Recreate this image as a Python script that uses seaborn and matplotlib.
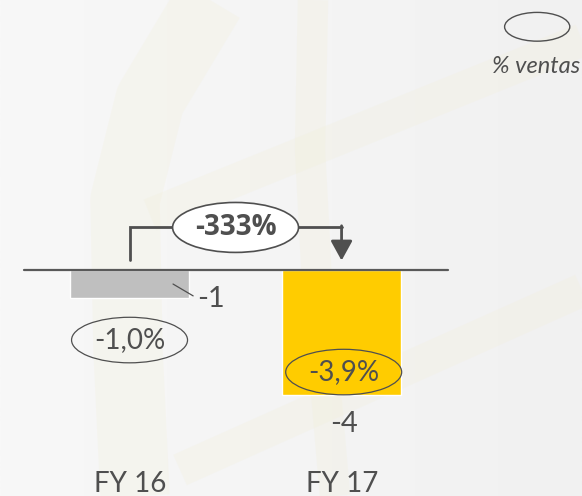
import matplotlib.pyplot as plt
import seaborn as sns
import numpy as np
import pandas as pd
from matplotlib.patches import Ellipse

years = ["FY 16", "FY 17"]
result = [-1.0, -4.5]
result_labels = ["-1", "-4"]
pct_sales = ["-1,0%", "-3,9%"]
change_label = "-333%"
bar_colors = ["#bfbfbf", "#ffcc00"]

sns.set_theme(style="white")
plt.rcParams["font.family"] = ["Lato", "DejaVu Sans"]

df = pd.DataFrame({"year": years, "result": result})
ink = "#4f4f4f"

fig = plt.figure(figsize=(5.82, 4.96), dpi=100)
fig.patch.set_facecolor("#f5f5f5")
ax = fig.add_axes([0, 0, 1, 1])
ax.set_facecolor("#f5f5f5")

# faint background gradient and globe watermark
grad = np.linspace(0, 1, 256).reshape(1, -1)
ax.imshow(grad, extent=[0, 1, 0, 1], transform=ax.transAxes, aspect="auto",
          cmap=sns.blend_palette(["#f8f8f8", "#f1f1f1"], as_cmap=True), zorder=0)
wm = dict(color="#f2efd8", alpha=0.25, solid_capstyle="butt", transform=ax.transAxes, zorder=0.5)
bands = [
    ([135, 128, 125, 150, 210], [496, 350, 200, 100, 0], 50),
    ([313, 310, 318, 335], [0, 150, 300, 496], 22),
    ([150, 582], [215, 40], 24),
    ([180, 582], [470, 290], 24),
]
for bx, by, w in bands:
    ax.plot(np.array(bx) / 582, 1 - np.array(by) / 496, lw=w, **wm)

sns.barplot(data=df, x="year", y="result", hue="year", palette=bar_colors,
            width=0.561, saturation=1, legend=False, ax=ax, zorder=2)

ax.set_xlim(-0.611, 2.134)
ax.set_ylim(-8.17, 9.80)
ax.axis("off")

# zero line
ax.plot([-0.5, 1.5], [0, 0], color="#595959", lw=1.6, zorder=3)

# value labels
ax.plot([0.205, 0.30], [-0.49, -0.92], color=ink, lw=0.9, zorder=3)
ax.text(0.384, -1.05, result_labels[0], ha="center", va="center", fontsize=21, color=ink)
ax.text(1.01, -5.55, result_labels[1], ha="center", va="center", fontsize=21, color=ink)

# % ventas ellipses
ell_y = [-2.52, -3.68]
ell_x = [0.0, 1.01]
for i in range(2):
    ax.add_patch(Ellipse((ell_x[i], ell_y[i]), 0.547, 1.65, facecolor="none",
                         edgecolor=ink, lw=0.9, zorder=4))
    ax.text(ell_x[i], ell_y[i], pct_sales[i], ha="center", va="center",
            fontsize=20, color=ink, zorder=5)

# FY labels
for i, yr in enumerate(years):
    ax.text(i + 0.005, -7.72, yr, ha="center", va="center", fontsize=20, color=ink)

# change bracket
top = 1.58
ax.plot([0, 0, 1], [0.38, top, top], color=ink, lw=2, zorder=3, solid_joinstyle="miter")
ax.annotate("", xy=(1, 0.36), xytext=(1, top + 0.04),
            arrowprops=dict(arrowstyle="-|>,head_length=1.0,head_width=0.55",
                            color=ink, lw=2, shrinkA=0, shrinkB=0), zorder=3)
ax.add_patch(Ellipse((0.5, 1.56), 0.594, 1.81, facecolor="white",
                     edgecolor=ink, lw=1.2, zorder=4))
ax.text(0.5, 1.56, change_label, ha="center", va="center", fontsize=20,
        fontweight="bold", family=["Open Sans", "DejaVu Sans"], color=ink, zorder=5)

# legend
ax.add_patch(Ellipse((0.923, 0.946), 0.112, 0.058, transform=ax.transAxes,
                     facecolor="none", edgecolor=ink, lw=1.0, zorder=4))
ax.text(0.922, 0.865, "% ventas", transform=ax.transAxes, ha="center", va="center",
        fontsize=17, style="italic", color=ink)

fig.savefig("out.png", dpi=100, facecolor=fig.get_facecolor())
